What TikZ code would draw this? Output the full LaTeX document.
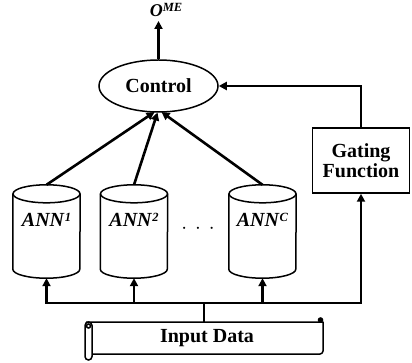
\documentclass[tikz,border=0pt]{standalone}
\usepackage{fontspec}
\setmainfont{Liberation Serif}
\usetikzlibrary{arrows.meta,shapes.geometric,calc}

\tikzset{
  outline/.style={draw=black, line width=1.5pt},
  conn/.style={draw=black, line width=2.6pt, line join=miter},
  arr/.style={conn, -{Triangle[length=8pt,width=8pt]}},
  lbl/.style={font=\fontsize{20}{21}\selectfont\bfseries},
  annbody/.style={minimum width=67pt, minimum height=93pt, inner sep=0pt},
}
\newcommand{\annlabel}[1]{\textbf{\textit{ANN}}\raisebox{0.55ex}{\fontsize{12.5}{12}\selectfont\textbf{\textit{#1}}}}

\begin{document}
\begin{tikzpicture}[x=1pt,y=-1pt]
\useasboundingbox (0,0) rectangle (412,363);

% main blocks
\node[outline, ellipse, minimum width=119pt, minimum height=52pt, inner sep=0pt, lbl]
  (ctrl) at (158.5,86) {Control};
\node[outline, rectangle, minimum width=97pt, minimum height=65pt, inner sep=0pt,
  lbl, align=center] (gate) at (361,160.5) {Gating\\[-1pt]Function};
\node[font=\fontsize{18}{18}\selectfont\bfseries\itshape, inner sep=0pt]
  (ome) at (166,10) {O\raisebox{0.6ex}{\fontsize{12.5}{12}\selectfont ME}};
\coordinate (outtip) at (158.5,21);

% expert networks (cylinders)
\node[annbody] (a1) at (46.5,231.5) {};
\node[annbody] (a2) at (134,231.5) {};
\node[annbody] (ac) at (262.5,231.5) {};
\foreach \n in {a1,a2,ac}{
  \draw[outline] ($(\n.north)+(0,9)$) ellipse [x radius=33.5pt, y radius=9pt];
  \draw[outline] ($(\n.north west)+(0,9)$) -- ($(\n.south west)+(0,-9)$)
    arc[start angle=180, end angle=360, x radius=33.5pt, y radius=9pt]
    -- ($(\n.north east)+(0,9)$);
}
\node[lbl, inner sep=0pt] (t1) at (46.5,220) {\annlabel{1}};
\node[lbl, inner sep=0pt] (t2) at (134,220) {\annlabel{2}};
\node[lbl, inner sep=0pt] (tc) at (262.5,220) {\annlabel{C}};
\node[font=\fontsize{20}{20}\selectfont, inner sep=0pt] (dots) at (198,229) {$\cdot\,\cdot\,\cdot$};

% input scroll
\node[inner sep=0pt, minimum width=230pt, minimum height=32pt, lbl] (input) at (207,338) {Input Data};
\draw[outline, line join=round] (86,322) -- (320.5,322)
  -- (323,322) -- (323,351) arc[start angle=0, end angle=-90, radius=3pt] -- (92,354);
\draw[outline, fill=black] (320.5,320) circle[radius=2pt];
\draw[outline, fill=white, rounded corners=3.5pt] (85,322) rectangle (92,360);
\draw[outline] (88.5,326) circle[radius=2pt];

% connectors
\coordinate (j) at (204,303);
\draw[arr] (ctrl.north) -- (outtip);
\draw[arr] (a1.north) -- (154.5,112);
\draw[arr] (a2.north) -- (157.5,112.5);
\draw[arr] (ac.north) -- (161.5,112);
\draw[arr] (gate.north) |- (ctrl.east);
\draw[conn, {Triangle[length=8pt,width=8pt]}-{Triangle[length=8pt,width=8pt]}]
  (a1.south) -- (a1.south |- j) -- (gate.south |- j) -- (gate.south);
\draw[arr] (a2.south |- j) -- (a2.south);
\draw[arr] (ac.south |- j) -- (ac.south);
\draw[conn] (j |- input.north) -- (j);
\end{tikzpicture}
\end{document}
